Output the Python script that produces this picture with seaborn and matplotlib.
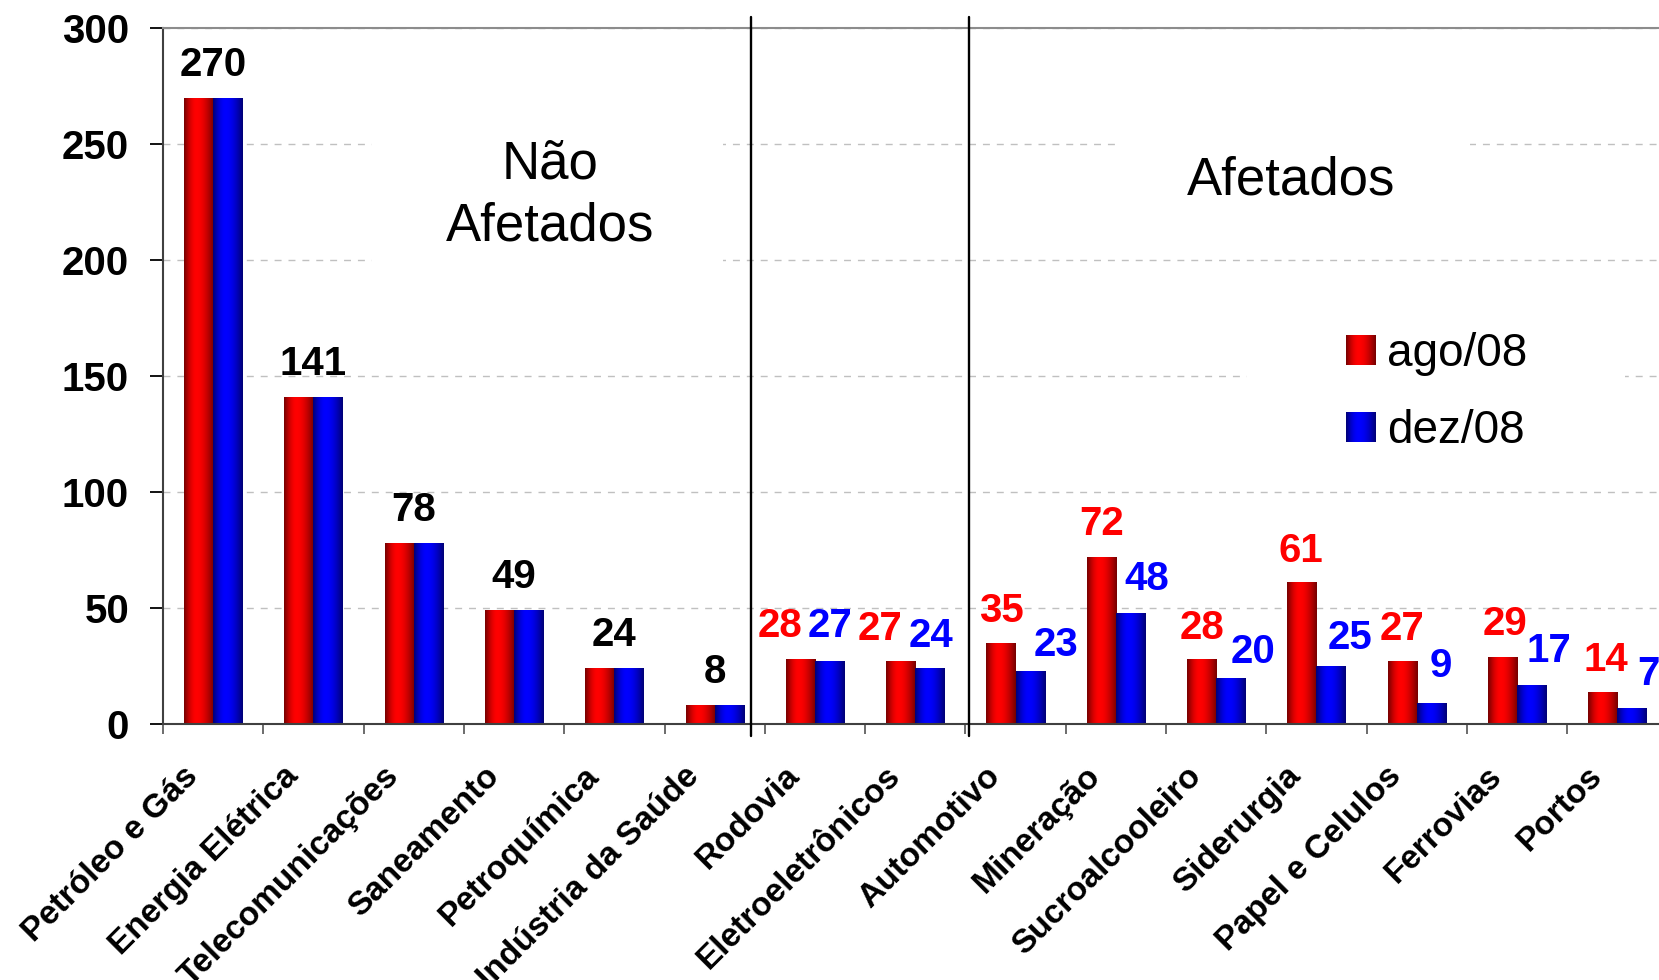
import numpy as np
import pandas as pd
import matplotlib
matplotlib.use("Agg")
import matplotlib.pyplot as plt
from matplotlib.patches import Rectangle
from matplotlib.legend_handler import HandlerBase
from matplotlib.transforms import ScaledTranslation
import seaborn as sns

# ---- data -------------------------------------------------------------
categories = ["Petróleo e Gás", "Energia Elétrica", "Telecomunicações", "Saneamento",
              "Petroquímica", "Indústria da Saúde", "Rodovia", "Eletroeletrônicos",
              "Automotivo", "Mineração", "Sucroalcooleiro", "Siderurgia",
              "Papel e Celulos", "Ferrovias", "Portos"]
ago08 = [270, 141, 78, 49, 24, 8, 28, 27, 35, 72, 28, 61, 27, 29, 14]
dez08 = [270, 141, 78, 49, 24, 8, 27, 24, 23, 48, 20, 25, 9, 17, 7]
series_names = ["ago/08", "dez/08"]
y_ticks = [0, 50, 100, 150, 200, 250, 300]
group_titles = ["Não\nAfetados", "Afetados"]
n_unaffected = 6

# ---- label placement (pixel offsets from the top centre of each bar) --
red_dx = [-20, -21, 0, 0, 0, -1, 0, 2, 3]
red_dy = [22, 21, 21, 22, 20, 20, 21, 22, 21]
blue_dx = [1, 1, 26, 16, 22, 19, 10, 17, 17]
blue_dy = [24, 21, 15, 23, 15, 17, 26, 23, 23]

RED = np.array([1.0, 0, 0])
BLUE = np.array([0, 0, 1.0])
FMIN = 0.45


def shade_profile(n=64, peak=0.42):
    t = (np.arange(n) + 0.5) / n
    s = np.where(t < peak, t / peak, (1 - t) / (1 - peak))
    return FMIN + (1 - FMIN) * np.sin(np.pi / 2 * s)


def gradient_row(base, n=64):
    f = shade_profile(n)
    return (f[:, None] * base[None, :])[None, :, :]


class GradientHandler(HandlerBase):
    def __init__(self, base):
        super().__init__()
        self.base = base

    def create_artists(self, legend, orig_handle, xdescent, ydescent,
                       width, height, fontsize, trans):
        n = 30
        f = shade_profile(n)
        arts = []
        for k in range(n):
            r = Rectangle((-xdescent + width * k / n, -ydescent), width / n * 1.08, height,
                          facecolor=f[k] * self.base, edgecolor="none", transform=trans)
            arts.append(r)
        return arts


sns.set_style("white")
plt.rcParams["font.family"] = ["Liberation Sans", "DejaVu Sans"]
plt.rcParams["text.color"] = "black"
plt.rcParams["xtick.color"] = "black"
plt.rcParams["ytick.color"] = "black"
plt.rcParams["xtick.labelcolor"] = "black"
plt.rcParams["ytick.labelcolor"] = "black"

W, H = 1659, 980
fig = plt.figure(figsize=(W / 100, H / 100), dpi=100)
ax = fig.add_axes([163 / W, 256 / H, 1504.5 / W, 696 / H])

df = pd.DataFrame({
    "setor": categories * 2,
    "serie": [series_names[0]] * len(categories) + [series_names[1]] * len(categories),
    "valor": ago08 + dez08,
})

sns.barplot(data=df, x="setor", y="valor", hue="serie", order=categories,
            hue_order=series_names, palette=["#ff0000", "#0000ff"], width=0.58,
            saturation=1, errorbar=None, legend=False, ax=ax, zorder=2)

# shaded (cylinder-like) fill for each bar
for cont, base in zip(ax.containers, [RED, BLUE]):
    for bar in cont:
        x0, w, h = bar.get_x(), bar.get_width(), bar.get_height()
        im = ax.imshow(gradient_row(base), extent=(x0, x0 + w, 0, h), aspect="auto",
                       interpolation="bilinear", zorder=2.1)
        im.set_clip_path(bar)
        bar.set_facecolor("none")
        bar.set_edgecolor("none")

ax.set_xlim(-0.5, len(categories) - 0.5)
ax.set_ylim(0, 300)
ax.set_xlabel("")
ax.set_ylabel("")

# gridlines
ax.set_axisbelow(True)
ax.yaxis.grid(True, color="#c0c0c0", linestyle=(0, (5, 5)), linewidth=1.0)
ax.xaxis.grid(False)

# spines
for side in ["left", "bottom"]:
    ax.spines[side].set_color("#404040")
    ax.spines[side].set_linewidth(1.5)
ax.spines["top"].set_color("#8c8c8c")
ax.spines["top"].set_linewidth(1.5)
ax.spines["right"].set_visible(False)

# y axis
ax.set_yticks(y_ticks)
ax.set_yticklabels([str(v) for v in y_ticks], fontsize=29, fontweight="bold")
ax.tick_params(axis="y", which="major", left=True, length=9.4, width=1.3, color="black", pad=15)

# x axis: labels at category centres, tick marks at boundaries
ax.set_xticks(range(len(categories)))
ax.set_xticklabels(categories, fontsize=24, fontweight="bold", rotation=45,
                   ha="right", va="center", rotation_mode="anchor")
ax.set_xticks(np.arange(-0.5, len(categories), 1), minor=True)
ax.tick_params(axis="x", which="major", bottom=True, length=0, pad=34)
ax.tick_params(axis="x", which="minor", bottom=True, length=7.2, width=1.3, color="#606060")
shift = ScaledTranslation(-20 / 100, 0, fig.dpi_scale_trans)
for lbl in ax.get_xticklabels():
    lbl.set_transform(lbl.get_transform() + shift)

# group separators
for xs in [5.362, 7.536]:
    ax.axvline(xs, ymin=-0.0172, ymax=1.0158, color="black", linewidth=1.7,
               clip_on=False, zorder=4)

# white boxes behind the group titles and the legend
ax.add_patch(Rectangle((1.584, 180), 5.083 - 1.584, 95, facecolor="white",
                       edgecolor="none", zorder=1))
ax.add_patch(Rectangle((9.0, 215), 12.53 - 9.0, 60, facecolor="white",
                       edgecolor="none", zorder=1))
ax.add_patch(Rectangle((10.31, 120), 14.08 - 10.31, 65, facecolor="white",
                       edgecolor="none", zorder=1))

ax.text(3.358, 208.6, group_titles[0], fontsize=38, ha="center", va="baseline",
        linespacing=1.3, multialignment="center", zorder=3)
ax.text(10.746, 228.4, group_titles[1], fontsize=38, ha="center", va="baseline", zorder=3)

# value labels
red_bars, blue_bars = ax.containers[0], ax.containers[1]
for i in range(n_unaffected):
    top = max(ago08[i], dez08[i])
    ax.annotate(str(ago08[i]), xy=(i, top), xytext=(0, 22), textcoords="offset pixels",
                ha="center", va="baseline", fontsize=29, fontweight="bold",
                color="black", zorder=5, annotation_clip=False)
for k, i in enumerate(range(n_unaffected, len(categories))):
    rb, bb = red_bars[i], blue_bars[i]
    ax.annotate(str(ago08[i]), xy=(rb.get_x() + rb.get_width() / 2, ago08[i]),
                xytext=(red_dx[k], red_dy[k]), textcoords="offset pixels",
                ha="center", va="baseline", fontsize=29, fontweight="bold",
                color="#ff0000", zorder=5, annotation_clip=False)
    ax.annotate(str(dez08[i]), xy=(bb.get_x() + bb.get_width() / 2, dez08[i]),
                xytext=(blue_dx[k], blue_dy[k]), textcoords="offset pixels",
                ha="center", va="baseline", fontsize=29, fontweight="bold",
                color="#0000ff", zorder=5, annotation_clip=False)

# legend
h_red = Rectangle((0, 0), 1, 1)
h_blue = Rectangle((0, 0), 1, 1)
fs_leg = 33
ax.legend([h_red, h_blue], series_names, loc="upper left",
          bbox_to_anchor=(1346 / W, 1 - 332 / H), bbox_transform=fig.transFigure,
          frameon=False, fontsize=fs_leg, borderpad=0, borderaxespad=0,
          handlelength=30 / (fs_leg * 100 / 72), handleheight=29 / (fs_leg * 100 / 72),
          handletextpad=0.25, labelspacing=0.72,
          handler_map={h_red: GradientHandler(RED), h_blue: GradientHandler(BLUE)})

fig.savefig("out.png", dpi=100, facecolor="white")
